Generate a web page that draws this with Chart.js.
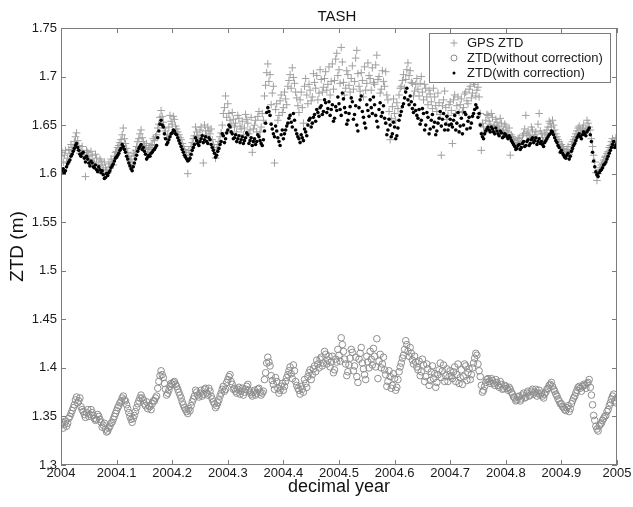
<!DOCTYPE html>
<html>
<head>
<meta charset="utf-8">
<script src="https://cdn.jsdelivr.net/npm/chart.js@4.4.1/dist/chart.umd.min.js"></script>
<style>
html, body { margin: 0; padding: 0; background: #fff; }
#wrap { width: 633px; height: 507px; }
</style>
</head>
<body>
<div id="wrap"><canvas id="ztdChart" width="633" height="507"></canvas></div>
<script>
// TASH station, zenith total delay over 2004 (metres).
// Even epochs: 2004 + i*0.004, odd epochs sit halfway between them.
const startYear = 2004;
const sampleStep = 0.004;

const gpsZtd = [
  1.618, 1.612, 1.624, 1.616, 1.621, 1.627, 1.633, 1.642, 1.629, 1.624, 1.620, 1.597, 1.622, 1.614, 1.619, 1.611, 1.616, 1.609, 1.613, 1.604, 1.606, 1.601, 1.607, 1.612, 1.618,
  1.623, 1.629, 1.635, 1.647, 1.631, 1.622, 1.613, 1.609, 1.619, 1.628, 1.636, 1.645, 1.633, 1.626, 1.622, 1.627, 1.630, 1.634, 1.640, 1.651, 1.665, 1.653, 1.644, 1.640, 1.660,
  1.651, 1.656, 1.646, 1.640, 1.635, 1.628, 1.622, 1.600, 1.619, 1.632, 1.639, 1.643, 1.636, 1.648, 1.611, 1.644, 1.648, 1.641, 1.635, 1.627, 1.625, 1.633, 1.642, 1.662, 1.680,
  1.672, 1.655, 1.663, 1.648, 1.643, 1.657, 1.646, 1.640, 1.661, 1.652, 1.645, 1.622, 1.650, 1.643, 1.664, 1.648, 1.655, 1.691, 1.713, 1.702, 1.683, 1.611, 1.672, 1.660, 1.681,
  1.668, 1.677, 1.690, 1.702, 1.709, 1.693, 1.678, 1.663, 1.684, 1.652, 1.698, 1.672, 1.686, 1.679, 1.694, 1.701, 1.683, 1.697, 1.689, 1.705, 1.692, 1.681, 1.713, 1.696, 1.724,
  1.707, 1.730, 1.694, 1.688, 1.702, 1.684, 1.711, 1.695, 1.727, 1.690, 1.704, 1.679, 1.686, 1.714, 1.698, 1.709, 1.692, 1.722, 1.700, 1.687, 1.695, 1.705, 1.676, 1.635, 1.669,
  1.662, 1.673, 1.681, 1.690, 1.702, 1.697, 1.714, 1.706, 1.693, 1.685, 1.698, 1.680, 1.700, 1.676, 1.688, 1.671, 1.682, 1.667, 1.679, 1.664, 1.673, 1.619, 1.676, 1.668, 1.660,
  1.674, 1.631, 1.681, 1.670, 1.663, 1.677, 1.668, 1.684, 1.672, 1.690, 1.683, 1.692, 1.686, 1.679, 1.624, 1.648, 1.655, 1.660, 1.651, 1.658, 1.650, 1.653, 1.647, 1.652, 1.645,
  1.649, 1.642, 1.619, 1.638, 1.634, 1.632, 1.637, 1.633, 1.641, 1.660, 1.643, 1.637, 1.645, 1.640, 1.636, 1.662, 1.641, 1.634, 1.640, 1.648, 1.652, 1.655, 1.645, 1.638, 1.633,
  1.630, 1.626, 1.621, 1.628, 1.624, 1.633, 1.638, 1.644, 1.649, 1.642, 1.650, 1.646, 1.652, 1.645, 1.628, 1.612, 1.593, 1.604, 1.609, 1.614, 1.618, 1.623, 1.629, 1.636, 1.632, 1.634
];
const gpsZtdOdd = [
  1.622, 1.619, 1.611, 1.625, 1.630, 1.624, 1.638, 1.634, 1.621, 1.628, 1.617, 1.624, 1.618, 1.623, 1.612, 1.620, 1.606, 1.615, 1.609, 1.612, 1.603, 1.610, 1.615, 1.609, 1.622,
  1.627, 1.632, 1.640, 1.636, 1.626, 1.618, 1.615, 1.621, 1.624, 1.633, 1.641, 1.637, 1.629, 1.631, 1.625, 1.629, 1.636, 1.638, 1.647, 1.658, 1.659, 1.647, 1.637, 1.648, 1.654,
  1.659, 1.649, 1.643, 1.637, 1.631, 1.625, 1.619, 1.624, 1.628, 1.636, 1.648, 1.639, 1.645, 1.640, 1.650, 1.639, 1.644, 1.646, 1.630, 1.616, 1.630, 1.638, 1.650, 1.668, 1.658,
  1.662, 1.650, 1.656, 1.652, 1.660, 1.649, 1.654, 1.647, 1.656, 1.641, 1.658, 1.646, 1.655, 1.659, 1.643, 1.662, 1.680, 1.704, 1.695, 1.671, 1.690, 1.666, 1.655, 1.675, 1.663,
  1.684, 1.671, 1.696, 1.688, 1.699, 1.684, 1.670, 1.676, 1.668, 1.690, 1.681, 1.692, 1.675, 1.703, 1.688, 1.676, 1.707, 1.684, 1.698, 1.686, 1.710, 1.695, 1.687, 1.718, 1.701,
  1.693, 1.715, 1.681, 1.706, 1.691, 1.698, 1.687, 1.719, 1.703, 1.685, 1.696, 1.710, 1.693, 1.701, 1.686, 1.694, 1.712, 1.697, 1.683, 1.706, 1.690, 1.681, 1.664, 1.657, 1.677,
  1.655, 1.667, 1.688, 1.696, 1.688, 1.707, 1.701, 1.694, 1.680, 1.692, 1.687, 1.693, 1.684, 1.692, 1.679, 1.686, 1.674, 1.688, 1.670, 1.683, 1.661, 1.670, 1.685, 1.656, 1.671,
  1.665, 1.676, 1.662, 1.679, 1.671, 1.664, 1.682, 1.675, 1.687, 1.678, 1.694, 1.680, 1.689, 1.662, 1.652, 1.643, 1.661, 1.654, 1.662, 1.647, 1.656, 1.649, 1.657, 1.643, 1.651,
  1.644, 1.647, 1.640, 1.635, 1.629, 1.636, 1.631, 1.639, 1.646, 1.641, 1.639, 1.648, 1.636, 1.643, 1.651, 1.644, 1.637, 1.642, 1.645, 1.654, 1.648, 1.650, 1.641, 1.635, 1.628,
  1.628, 1.623, 1.625, 1.620, 1.630, 1.635, 1.641, 1.647, 1.645, 1.647, 1.643, 1.655, 1.648, 1.636, 1.619, 1.601, 1.600, 1.606, 1.611, 1.617, 1.621, 1.627, 1.633, 1.630, 1.637
];

const ztdNoCorr = [
  1.341, 1.338, 1.345, 1.343, 1.350, 1.356, 1.362, 1.370, 1.366, 1.360, 1.355, 1.349, 1.357, 1.352, 1.354, 1.348, 1.347, 1.350, 1.344, 1.341, 1.337, 1.335, 1.340, 1.344, 1.350,
  1.356, 1.361, 1.366, 1.371, 1.366, 1.358, 1.350, 1.344, 1.351, 1.359, 1.366, 1.372, 1.367, 1.361, 1.358, 1.360, 1.363, 1.366, 1.371, 1.386, 1.397, 1.390, 1.378, 1.374, 1.381,
  1.383, 1.386, 1.381, 1.375, 1.369, 1.362, 1.357, 1.353, 1.356, 1.365, 1.371, 1.375, 1.370, 1.377, 1.373, 1.379, 1.372, 1.376, 1.368, 1.363, 1.361, 1.367, 1.374, 1.381, 1.378,
  1.388, 1.393, 1.383, 1.379, 1.374, 1.380, 1.376, 1.372, 1.378, 1.383, 1.375, 1.371, 1.377, 1.374, 1.379, 1.372, 1.376, 1.395, 1.411, 1.402, 1.387, 1.378, 1.386, 1.374, 1.381,
  1.377, 1.386, 1.393, 1.401, 1.389, 1.397, 1.382, 1.377, 1.381, 1.375, 1.384, 1.391, 1.398, 1.393, 1.402, 1.408, 1.400, 1.411, 1.405, 1.414, 1.408, 1.401, 1.412, 1.398, 1.406,
  1.413, 1.431, 1.417, 1.404, 1.396, 1.410, 1.416, 1.402, 1.391, 1.409, 1.421, 1.399, 1.388, 1.406, 1.417, 1.403, 1.412, 1.430, 1.407, 1.400, 1.411, 1.393, 1.386, 1.391, 1.382,
  1.389, 1.380, 1.396, 1.405, 1.413, 1.428, 1.417, 1.421, 1.408, 1.412, 1.401, 1.407, 1.396, 1.403, 1.391, 1.399, 1.387, 1.402, 1.394, 1.385, 1.398, 1.390, 1.403, 1.392, 1.386,
  1.397, 1.389, 1.401, 1.393, 1.384, 1.398, 1.391, 1.402, 1.395, 1.388, 1.400, 1.410, 1.413, 1.397, 1.382, 1.377, 1.385, 1.389, 1.384, 1.387, 1.382, 1.385, 1.380, 1.383, 1.379,
  1.381, 1.377, 1.378, 1.373, 1.369, 1.367, 1.371, 1.368, 1.374, 1.370, 1.376, 1.372, 1.378, 1.375, 1.371, 1.377, 1.374, 1.369, 1.375, 1.379, 1.383, 1.381, 1.376, 1.371, 1.366,
  1.363, 1.359, 1.356, 1.361, 1.358, 1.366, 1.371, 1.377, 1.381, 1.376, 1.383, 1.379, 1.385, 1.380, 1.362, 1.346, 1.337, 1.340, 1.343, 1.348, 1.351, 1.357, 1.364, 1.371, 1.366, 1.369
];
const ztdNoCorrOdd = [
  1.344, 1.342, 1.340, 1.348, 1.353, 1.359, 1.367, 1.364, 1.369, 1.357, 1.352, 1.354, 1.350, 1.357, 1.351, 1.346, 1.352, 1.347, 1.339, 1.343, 1.334, 1.338, 1.343, 1.347, 1.353,
  1.359, 1.364, 1.369, 1.367, 1.362, 1.354, 1.347, 1.348, 1.355, 1.363, 1.369, 1.369, 1.363, 1.365, 1.361, 1.357, 1.366, 1.369, 1.379, 1.392, 1.393, 1.384, 1.372, 1.377, 1.384,
  1.385, 1.383, 1.378, 1.372, 1.365, 1.359, 1.355, 1.358, 1.361, 1.368, 1.377, 1.372, 1.374, 1.371, 1.378, 1.374, 1.379, 1.371, 1.365, 1.359, 1.364, 1.371, 1.378, 1.376, 1.385,
  1.391, 1.386, 1.378, 1.376, 1.378, 1.373, 1.379, 1.375, 1.381, 1.377, 1.373, 1.375, 1.372, 1.378, 1.375, 1.374, 1.388, 1.405, 1.406, 1.392, 1.383, 1.390, 1.379, 1.377, 1.384,
  1.381, 1.390, 1.397, 1.394, 1.403, 1.386, 1.379, 1.373, 1.378, 1.388, 1.380, 1.395, 1.388, 1.399, 1.396, 1.404, 1.409, 1.402, 1.417, 1.404, 1.412, 1.406, 1.395, 1.409, 1.419,
  1.407, 1.424, 1.409, 1.392, 1.403, 1.419, 1.397, 1.411, 1.385, 1.415, 1.405, 1.393, 1.412, 1.400, 1.409, 1.420, 1.401, 1.389, 1.414, 1.404, 1.398, 1.381, 1.397, 1.379, 1.394,
  1.377, 1.388, 1.401, 1.410, 1.419, 1.424, 1.412, 1.415, 1.404, 1.406, 1.398, 1.392, 1.409, 1.386, 1.404, 1.382, 1.396, 1.389, 1.380, 1.393, 1.405, 1.397, 1.386, 1.399, 1.391,
  1.392, 1.396, 1.386, 1.404, 1.390, 1.383, 1.404, 1.387, 1.399, 1.393, 1.405, 1.415, 1.404, 1.391, 1.375, 1.381, 1.388, 1.386, 1.389, 1.384, 1.388, 1.382, 1.386, 1.378, 1.382,
  1.379, 1.380, 1.375, 1.370, 1.366, 1.370, 1.366, 1.372, 1.369, 1.374, 1.371, 1.376, 1.373, 1.378, 1.374, 1.372, 1.371, 1.373, 1.378, 1.382, 1.385, 1.378, 1.373, 1.368, 1.363,
  1.360, 1.357, 1.359, 1.355, 1.363, 1.369, 1.374, 1.380, 1.379, 1.381, 1.382, 1.384, 1.388, 1.372, 1.351, 1.340, 1.335, 1.342, 1.346, 1.350, 1.355, 1.361, 1.368, 1.373, 1.364
];

const ztdCorr = [
  1.600, 1.605, 1.603, 1.610, 1.614, 1.620, 1.626, 1.631, 1.624, 1.618, 1.622, 1.612, 1.615, 1.608, 1.611, 1.606, 1.604, 1.607, 1.601, 1.599, 1.596, 1.598, 1.603, 1.608, 1.613,
  1.617, 1.621, 1.626, 1.628, 1.622, 1.615, 1.608, 1.603, 1.611, 1.619, 1.626, 1.630, 1.627, 1.620, 1.617, 1.618, 1.622, 1.625, 1.629, 1.644, 1.655, 1.648, 1.636, 1.632, 1.638,
  1.642, 1.644, 1.640, 1.634, 1.628, 1.622, 1.617, 1.613, 1.616, 1.624, 1.630, 1.634, 1.629, 1.636, 1.632, 1.638, 1.631, 1.635, 1.627, 1.621, 1.619, 1.626, 1.633, 1.639, 1.636,
  1.645, 1.648, 1.641, 1.637, 1.633, 1.639, 1.635, 1.631, 1.637, 1.640, 1.634, 1.629, 1.636, 1.633, 1.638, 1.631, 1.635, 1.652, 1.668, 1.660, 1.646, 1.638, 1.644, 1.633, 1.640,
  1.636, 1.645, 1.652, 1.660, 1.648, 1.655, 1.641, 1.636, 1.640, 1.634, 1.643, 1.650, 1.657, 1.652, 1.661, 1.666, 1.659, 1.670, 1.664, 1.673, 1.667, 1.660, 1.671, 1.657, 1.665,
  1.672, 1.660, 1.677, 1.663, 1.655, 1.669, 1.674, 1.661, 1.650, 1.668, 1.680, 1.658, 1.647, 1.665, 1.676, 1.662, 1.671, 1.654, 1.666, 1.659, 1.670, 1.652, 1.645, 1.650, 1.641,
  1.648, 1.639, 1.655, 1.664, 1.672, 1.684, 1.676, 1.680, 1.667, 1.671, 1.660, 1.666, 1.655, 1.662, 1.650, 1.658, 1.646, 1.661, 1.653, 1.644, 1.657, 1.649, 1.662, 1.651, 1.645,
  1.656, 1.648, 1.660, 1.652, 1.643, 1.657, 1.650, 1.661, 1.654, 1.647, 1.659, 1.666, 1.668, 1.662, 1.641, 1.636, 1.644, 1.648, 1.643, 1.646, 1.641, 1.644, 1.639, 1.642, 1.638,
  1.640, 1.636, 1.637, 1.632, 1.628, 1.626, 1.630, 1.627, 1.633, 1.629, 1.635, 1.631, 1.637, 1.634, 1.630, 1.636, 1.633, 1.628, 1.634, 1.638, 1.641, 1.643, 1.637, 1.632, 1.627,
  1.624, 1.619, 1.616, 1.621, 1.618, 1.626, 1.631, 1.637, 1.641, 1.636, 1.643, 1.639, 1.645, 1.640, 1.622, 1.607, 1.599, 1.601, 1.604, 1.609, 1.612, 1.618, 1.624, 1.630, 1.627, 1.631
];
const ztdCorrOdd = [
  1.603, 1.601, 1.607, 1.612, 1.618, 1.623, 1.629, 1.627, 1.620, 1.621, 1.616, 1.618, 1.611, 1.613, 1.607, 1.609, 1.602, 1.604, 1.603, 1.595, 1.600, 1.601, 1.606, 1.610, 1.616,
  1.619, 1.624, 1.630, 1.625, 1.618, 1.611, 1.605, 1.607, 1.615, 1.623, 1.628, 1.625, 1.623, 1.615, 1.619, 1.621, 1.624, 1.627, 1.637, 1.651, 1.650, 1.641, 1.630, 1.635, 1.641,
  1.645, 1.641, 1.637, 1.631, 1.625, 1.619, 1.615, 1.614, 1.620, 1.627, 1.637, 1.631, 1.633, 1.639, 1.635, 1.633, 1.637, 1.630, 1.624, 1.617, 1.623, 1.630, 1.641, 1.632, 1.642,
  1.650, 1.643, 1.636, 1.640, 1.636, 1.632, 1.638, 1.634, 1.642, 1.631, 1.637, 1.633, 1.630, 1.640, 1.634, 1.629, 1.644, 1.663, 1.664, 1.651, 1.641, 1.649, 1.637, 1.629, 1.645,
  1.641, 1.649, 1.657, 1.653, 1.662, 1.645, 1.638, 1.632, 1.637, 1.646, 1.639, 1.655, 1.648, 1.658, 1.654, 1.663, 1.668, 1.661, 1.676, 1.663, 1.674, 1.666, 1.654, 1.669, 1.679,
  1.666, 1.683, 1.668, 1.651, 1.662, 1.678, 1.656, 1.670, 1.644, 1.676, 1.664, 1.652, 1.671, 1.659, 1.668, 1.679, 1.660, 1.648, 1.673, 1.663, 1.657, 1.640, 1.656, 1.638, 1.653,
  1.636, 1.647, 1.660, 1.669, 1.678, 1.688, 1.671, 1.674, 1.663, 1.665, 1.657, 1.651, 1.667, 1.645, 1.663, 1.641, 1.655, 1.648, 1.640, 1.652, 1.664, 1.656, 1.645, 1.659, 1.650,
  1.651, 1.655, 1.645, 1.663, 1.649, 1.641, 1.663, 1.646, 1.658, 1.652, 1.662, 1.671, 1.658, 1.650, 1.638, 1.641, 1.646, 1.645, 1.648, 1.643, 1.647, 1.641, 1.644, 1.637, 1.641,
  1.638, 1.639, 1.634, 1.630, 1.625, 1.629, 1.625, 1.631, 1.628, 1.633, 1.629, 1.635, 1.632, 1.637, 1.633, 1.631, 1.630, 1.632, 1.636, 1.640, 1.644, 1.640, 1.634, 1.629, 1.622,
  1.621, 1.617, 1.619, 1.615, 1.623, 1.629, 1.634, 1.639, 1.638, 1.640, 1.641, 1.643, 1.647, 1.633, 1.613, 1.602, 1.597, 1.603, 1.606, 1.610, 1.615, 1.621, 1.627, 1.633, 1.629
];

const xTicks = [2004, 2004.1, 2004.2, 2004.3, 2004.4, 2004.5, 2004.6, 2004.7, 2004.8, 2004.9, 2005];
const yTicks = [1.3, 1.35, 1.4, 1.45, 1.5, 1.55, 1.6, 1.65, 1.7, 1.75];
const seriesLabels = ['GPS ZTD', 'ZTD(without correction)', 'ZTD(with correction)'];

const FONT = "'Liberation Sans', Arial, Helvetica, sans-serif";
const toPoints = (vals, offset) => vals.map((v, i) => ({ x: startYear + offset + i * sampleStep, y: v }));
const bothEpochs = (even, odd) => toPoints(even, 0).concat(toPoints(odd, sampleStep / 2));

// box round the axes with matlab style inward ticks on all four sides
const frameTicks = {
  id: 'frameTicks',
  afterDatasetsDraw(chart) {
    const { ctx, chartArea: a, scales } = chart;
    const len = 5;
    ctx.save();
    ctx.strokeStyle = '#7c7c7c';
    ctx.lineWidth = 1;
    ctx.strokeRect(a.left + 0.5, a.top + 0.5, a.right - a.left - 1, a.bottom - a.top - 1);
    ctx.beginPath();
    xTicks.forEach(v => {
      const px = Math.round(scales.x.getPixelForValue(v)) + 0.5;
      ctx.moveTo(px, a.bottom); ctx.lineTo(px, a.bottom - len);
      ctx.moveTo(px, a.top); ctx.lineTo(px, a.top + len);
    });
    yTicks.forEach(v => {
      const py = Math.round(scales.y.getPixelForValue(v)) + 0.5;
      ctx.moveTo(a.left, py); ctx.lineTo(a.left + len, py);
      ctx.moveTo(a.right, py); ctx.lineTo(a.right - len, py);
    });
    ctx.stroke();
    ctx.restore();
  }
};

// title above the box and the boxed legend in the upper right corner
const titleLegend = {
  id: 'titleLegend',
  afterDraw(chart) {
    const { ctx, chartArea: a } = chart;
    ctx.save();
    ctx.fillStyle = '#111';
    ctx.font = '15px ' + FONT;
    ctx.textAlign = 'center';
    ctx.textBaseline = 'middle';
    ctx.fillText('TASH', (a.left + a.right) / 2 - 2, a.top - 11);

    const w = 181, h = 49;
    const lx = a.right - 7 - w, ly = a.top + 5;
    ctx.fillStyle = '#fff';
    ctx.fillRect(lx, ly, w, h);
    ctx.strokeStyle = '#7c7c7c';
    ctx.strokeRect(lx + 0.5, ly + 0.5, w, h);

    ctx.font = '13px ' + FONT;
    ctx.textAlign = 'left';
    chart.data.datasets.forEach((ds, i) => {
      const cy = ly + 10 + i * 15;
      const mx = lx + 25;
      ctx.lineWidth = 1;
      if (i === 0) {
        ctx.strokeStyle = ds.borderColor;
        ctx.beginPath();
        ctx.moveTo(mx - 3.5, cy); ctx.lineTo(mx + 3.5, cy);
        ctx.moveTo(mx, cy - 3.5); ctx.lineTo(mx, cy + 3.5);
        ctx.stroke();
      } else if (i === 1) {
        ctx.strokeStyle = ds.borderColor;
        ctx.beginPath();
        ctx.arc(mx, cy, 3, 0, Math.PI * 2);
        ctx.stroke();
      } else {
        ctx.fillStyle = ds.backgroundColor;
        ctx.beginPath();
        ctx.arc(mx, cy, 1.5, 0, Math.PI * 2);
        ctx.fill();
      }
      ctx.fillStyle = '#1a1a1a';
      ctx.fillText(ds.label, lx + 38, cy);
    });
    ctx.restore();
  }
};

new Chart(document.getElementById('ztdChart'), {
  type: 'scatter',
  data: {
    datasets: [
      {
        label: seriesLabels[0],
        data: bothEpochs(gpsZtd, gpsZtdOdd),
        pointStyle: 'cross',
        pointRadius: 3.8,
        borderWidth: 1,
        borderColor: '#a0a0a0',
        backgroundColor: '#a0a0a0',
        order: 3
      },
      {
        label: seriesLabels[1],
        data: bothEpochs(ztdNoCorr, ztdNoCorrOdd),
        pointStyle: 'circle',
        pointRadius: 3.3,
        borderWidth: 1,
        borderColor: '#8e8e8e',
        backgroundColor: 'rgba(0,0,0,0)',
        order: 2
      },
      {
        label: seriesLabels[2],
        data: bothEpochs(ztdCorr, ztdCorrOdd),
        pointStyle: 'circle',
        pointRadius: 1.8,
        borderWidth: 0,
        borderColor: '#000',
        backgroundColor: '#000',
        order: 1
      }
    ]
  },
  options: {
    responsive: false,
    animation: false,
    devicePixelRatio: 1,
    layout: { padding: { top: 28, right: 16, left: 0, bottom: 0 } },
    plugins: {
      legend: { display: false },
      tooltip: { enabled: false },
      title: { display: false }
    },
    scales: {
      x: {
        type: 'linear',
        min: 2004,
        max: 2005,
        afterBuildTicks: s => { s.ticks = xTicks.map(v => ({ value: v })); },
        afterFit: s => { s.height = 42; },
        grid: { display: false, drawTicks: false },
        border: { display: false },
        ticks: {
          autoSkip: false,
          maxRotation: 0,
          padding: 1,
          color: '#1a1a1a',
          font: { family: FONT, size: 13 },
          callback: v => String(+v.toFixed(1))
        },
        title: {
          display: true,
          text: 'decimal year',
          color: '#111',
          font: { family: FONT, size: 18 },
          padding: { top: 0, bottom: 9 }
        }
      },
      y: {
        min: 1.3,
        max: 1.75,
        afterBuildTicks: s => { s.ticks = yTicks.map(v => ({ value: v })); },
        afterFit: s => { s.width = 61; },
        grid: { display: false, drawTicks: false },
        border: { display: false },
        ticks: {
          padding: 4,
          color: '#1a1a1a',
          font: { family: FONT, size: 13 },
          callback: v => String(+v.toFixed(2))
        },
        title: {
          display: true,
          text: 'ZTD (m)',
          color: '#111',
          font: { family: FONT, size: 19 },
          padding: { top: 6, bottom: 0 }
        }
      }
    }
  },
  plugins: [frameTicks, titleLegend]
});
</script>
</body>
</html>
